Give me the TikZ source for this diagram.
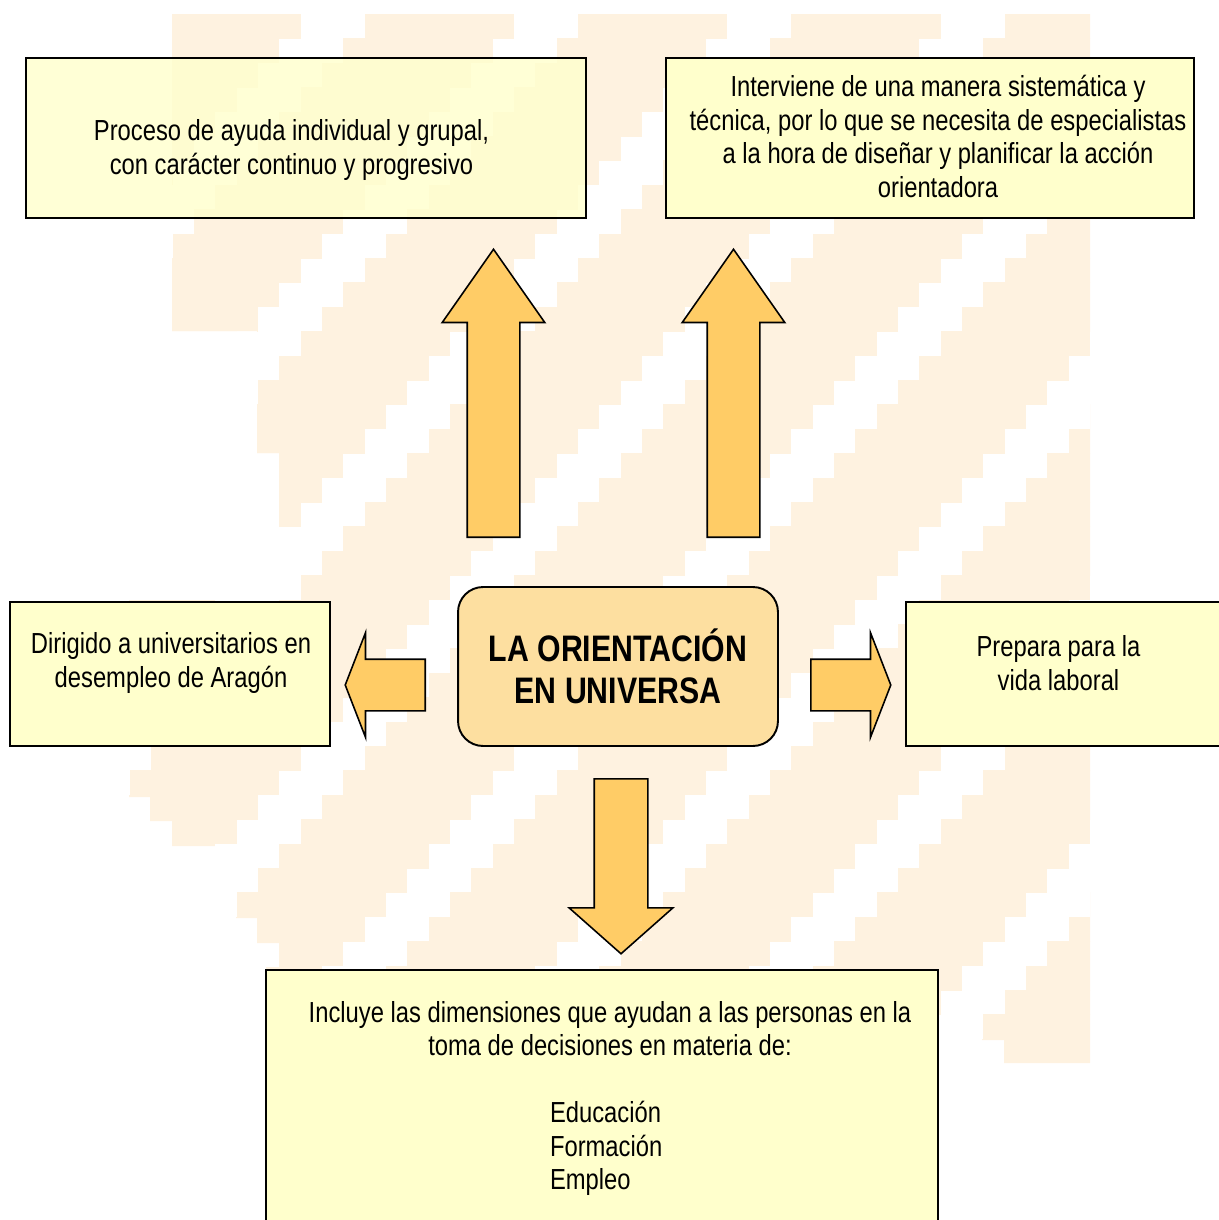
\documentclass[tikz,border=0pt]{standalone}
\usepackage{fontspec}
\setmainfont{Liberation Sans}[FakeStretch=0.82]
\usetikzlibrary{shapes.arrows}

\definecolor{notefill}{HTML}{FFFFCC}
\definecolor{arrowfill}{HTML}{FFCC66}
\definecolor{hubfill}{HTML}{FDDFA0}
\definecolor{wmark}{HTML}{FEF2E0}

\begin{document}
\begin{tikzpicture}[x=0.02cm, y=-0.02cm,
    note/.style={draw=black, line width=1.1pt, fill=notefill, inner sep=0pt},
    notetext/.style={align=center, inner sep=0pt, font=\fontsize{16.5}{19}\selectfont},
    hubbox/.style={draw=black, line width=1.1pt, fill=hubfill, rounded corners=0.5cm,
        inner sep=0pt, align=center, font=\fontsize{21}{23.8}\selectfont\bfseries},
    blockarrow/.style={single arrow, draw=black, line width=0.9pt, fill=arrowfill,
        inner xsep=0pt, anchor=tail}]

    % Page is the size of the slide
    \useasboundingbox (0,0) rectangle (1219,1220);
    \clip (0,0) rectangle (1219,1220);

    % Faint stepped watermark in the background (diagonal stairs)
    \begin{scope}
        \clip (172,14) -- (1090,14) -- (1090,1063) -- (1004,1063) -- (1004,1040)
            -- (982,1040) -- (982,1017) -- (266,1017) -- (266,967) -- (279,967)
            -- (279,943) -- (257,943) -- (257,918) -- (236,918) -- (236,846)
            -- (172,846) -- (172,821) -- (150,821) -- (150,797) -- (129,797)
            -- (129,600) -- (279,600) -- (279,453) -- (257,453) -- (257,331)
            -- (172,331) -- cycle;
        \foreach \r in {0,...,42} {
            \foreach \k in {0,...,8} {
                \fill[wmark] ({130+21.33*(10*\k+1-\r)},{14+24.4*\r}) rectangle +(149.3,24.9);
            }
        }
    \end{scope}

    % Boxes round the centre
    \node[note, fill opacity=0.8, minimum width=11.2cm, minimum height=3.2cm] (proceso) at (306,138) {};
    \node[note, minimum width=10.56cm, minimum height=3.2cm] (interviene) at (930,138) {};
    \node[note, minimum width=6.4cm, minimum height=2.88cm] (dirigido) at (170,674) {};
    \node[note, minimum width=6.68cm, minimum height=2.88cm] (prepara) at (1073,674) {};
    \node[note, minimum width=13.44cm, minimum height=5.4cm] (incluye) at (602,1105) {};

    % Texts of the boxes
    \node[notetext] (procesoText) at ([shift={(-14.5,12)}]proceso.center)
        {Proceso de ayuda individual y grupal,\\con carácter continuo y progresivo};
    \node[notetext] (intervieneText) at ([shift={(8,-1.5)}]interviene.center)
        {Interviene de una manera sistemática y\\técnica, por lo que se necesita de especialistas\\a la hora de diseñar y planificar la acción\\orientadora};
    \node[notetext] (dirigidoText) at ([shift={(1,-11)}]dirigido.center)
        {Dirigido a universitarios en\\desempleo de Aragón};
    \node[notetext] (preparaText) at ([shift={(-14.5,-11)}]prepara.center)
        {Prepara para la\\vida laboral};
    \node[notetext] (incluyeText) at ([shift={(8,-6.5)}]incluye.center)
        {Incluye las dimensiones que ayudan a las personas en la\\toma de decisiones en materia de:\\[19pt]
         \makebox[2.4cm][l]{Educación}\\\makebox[2.4cm][l]{Formación}\\\makebox[2.4cm][l]{Empleo}};

    % Central box
    \node[hubbox, minimum width=6.4cm, minimum height=3.18cm] (hub) at (618,666.5)
        {LA ORIENTACIÓN\\EN UNIVERSA};

    % Block arrows out of the centre
    \node[blockarrow, rotate=90, minimum height=5.76cm, inner ysep=0.51cm,
        single arrow head extend=0.5cm, single arrow tip angle=70] (upL) at (493.5,538) {};
    \node[blockarrow, rotate=90, minimum height=5.76cm, inner ysep=0.51cm,
        single arrow head extend=0.5cm, single arrow tip angle=70] (upR) at (733.5,538) {};
    \node[blockarrow, rotate=180, minimum height=1.6cm, inner ysep=0.5cm,
        single arrow head extend=0.53cm, single arrow tip angle=137.6] (toLeft) at (426,685) {};
    \node[blockarrow, rotate=0, minimum height=1.6cm, inner ysep=0.5cm,
        single arrow head extend=0.53cm, single arrow tip angle=137.6] (toRight) at (810,685) {};
    \node[blockarrow, rotate=-90, minimum height=3.5cm, inner ysep=0.52cm,
        single arrow head extend=0.5cm, single arrow tip angle=97] (toDown) at (621,778) {};
\end{tikzpicture}
\end{document}
